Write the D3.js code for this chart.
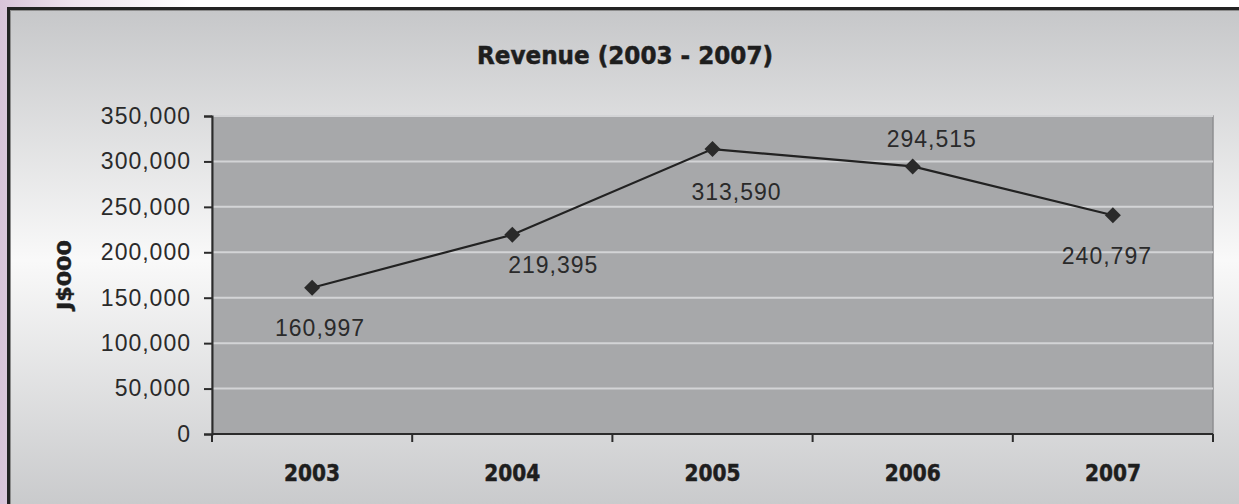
<!DOCTYPE html>
<html>
<head>
<meta charset="utf-8">
<script src="https://cdn.jsdelivr.net/npm/d3@7/dist/d3.min.js"></script>
<style>
  html, body { margin: 0; padding: 0; background: #fff; }
  svg { display: block; }
</style>
</head>
<body>
<svg id="chart" width="1239" height="504"></svg>
<script>
// Revenue by year, J$000
const years = ["2003", "2004", "2005", "2006", "2007"];
const revenue = [160997, 219395, 313590, 294515, 240797];
const yTicks = [0, 50000, 100000, 150000, 200000, 250000, 300000, 350000];
const chartTitle = "Revenue (2003 - 2007)";
const yTitle = "J$000";

// where each value label sits relative to its marker (dx, dy of label centre)
const labelOffsets = [[8, 40], [41, 30], [24, 43], [19, -27], [-6, 41]];

const W = 1239, H = 504;
const plot = { left: 212, top: 116, right: 1213, bottom: 434 };

const svg = d3.select("#chart");
const defs = svg.append("defs");

// slide background: lavender wash on the left, white elsewhere
const bg = defs.append("linearGradient").attr("id", "slideBg")
  .attr("x1", 0).attr("y1", 0).attr("x2", 1).attr("y2", 0);
bg.append("stop").attr("offset", 0).attr("stop-color", "#d8c4d9");
bg.append("stop").attr("offset", 0.06).attr("stop-color", "#eee4ee");
bg.append("stop").attr("offset", 0.16).attr("stop-color", "#ffffff");
svg.append("rect").attr("width", W).attr("height", H).attr("fill", "url(#slideBg)");

// chart area: grey at the edges, light in the middle
const ca = defs.append("linearGradient").attr("id", "chartBg")
  .attr("x1", 0).attr("y1", 0).attr("x2", 0).attr("y2", 1);
ca.append("stop").attr("offset", 0).attr("stop-color", "#c6c7c9");
ca.append("stop").attr("offset", 0.49).attr("stop-color", "#f9f9f9");
ca.append("stop").attr("offset", 1).attr("stop-color", "#c6c7c9");

svg.append("rect")
  .attr("x", 8.5).attr("y", 8.5).attr("width", W + 10).attr("height", H + 10)
  .attr("fill", "url(#chartBg)")
  .attr("stroke", "#232323").attr("stroke-width", 3);
svg.append("rect")
  .attr("x", 10.5).attr("y", 10.5).attr("width", W + 10).attr("height", H + 10)
  .attr("fill", "none").attr("stroke", "#8c8c8c").attr("stroke-width", 1);

// scales
const x = d3.scaleBand().domain(years).range([plot.left, plot.right]).padding(0);
const y = d3.scaleLinear().domain([0, 350000]).range([plot.bottom, plot.top]);

// plot area
svg.append("rect")
  .attr("x", plot.left).attr("y", plot.top)
  .attr("width", plot.right - plot.left).attr("height", plot.bottom - plot.top)
  .attr("fill", "#a7a8aa")
  .attr("stroke", "#8e8f91").attr("stroke-width", 1.5);

// gridlines
svg.append("g").selectAll("line").data(yTicks.filter(d => d > 0)).join("line")
  .attr("x1", plot.left).attr("x2", plot.right)
  .attr("y1", d => y(d)).attr("y2", d => y(d))
  .attr("stroke", "#d3d4d6").attr("stroke-width", 2);

const tickFont = "'Liberation Sans', Arial, sans-serif";
const boldFont = "'DejaVu Sans Condensed', 'DejaVu Sans', sans-serif";

// y axis
const yAxis = svg.append("g")
  .attr("transform", `translate(${plot.left},0)`)
  .call(d3.axisLeft(y).tickValues(yTicks).tickFormat(d3.format(",")).tickSize(8).tickPadding(13));
yAxis.select(".domain").attr("stroke", "#2b2b2b").attr("stroke-width", 2);
yAxis.selectAll(".tick line").attr("stroke", "#2b2b2b").attr("stroke-width", 2);
yAxis.selectAll(".tick text")
  .attr("font-family", tickFont).attr("font-size", 23)
  .attr("letter-spacing", 1).attr("fill", "#2a2a2a");

// x axis: labels at band centres, ticks at band boundaries
const xAxis = svg.append("g")
  .attr("transform", `translate(0,${plot.bottom})`)
  .call(d3.axisBottom(x).tickSize(0).tickPadding(0));
xAxis.select(".domain").remove();
xAxis.selectAll(".tick text")
  .attr("font-family", boldFont).attr("font-weight", "bold").attr("font-size", 23)
  .attr("fill", "#1e1e1e").attr("stroke", "#1e1e1e").attr("stroke-width", 0.5)
  .attr("dy", null).attr("y", 47)
  .attr("textLength", 56).attr("lengthAdjust", "spacingAndGlyphs");

const bounds = d3.range(years.length + 1).map(i => plot.left + i * x.step());
svg.append("line")
  .attr("x1", plot.left).attr("x2", plot.right)
  .attr("y1", plot.bottom).attr("y2", plot.bottom)
  .attr("stroke", "#2b2b2b").attr("stroke-width", 2);
svg.append("g").selectAll("line").data(bounds).join("line")
  .attr("x1", d => d).attr("x2", d => d)
  .attr("y1", plot.bottom).attr("y2", plot.bottom + 8)
  .attr("stroke", "#2b2b2b").attr("stroke-width", 2);

// revenue line
const pts = years.map((yr, i) => ({ yr, v: revenue[i], off: labelOffsets[i] }));
const cx = d => x(d.yr) + x.bandwidth() / 2;

svg.append("path")
  .datum(pts)
  .attr("d", d3.line().x(cx).y(d => y(d.v)))
  .attr("fill", "none").attr("stroke", "#222").attr("stroke-width", 2.2);

// diamond markers
svg.append("g").selectAll("path").data(pts).join("path")
  .attr("transform", d => `translate(${cx(d)},${y(d.v)})`)
  .attr("d", "M0,-8L8,0L0,8L-8,0Z")
  .attr("fill", "#2a2a2a");

// value labels
svg.append("g").selectAll("text").data(pts).join("text")
  .attr("x", d => cx(d) + d.off[0])
  .attr("y", d => y(d.v) + d.off[1] + 8)
  .attr("text-anchor", "middle")
  .attr("font-family", tickFont).attr("font-size", 23)
  .attr("letter-spacing", 1).attr("fill", "#2a2a2a")
  .text(d => d3.format(",")(d.v));

// chart title
svg.append("text")
  .attr("x", 625).attr("y", 64)
  .attr("text-anchor", "middle")
  .attr("font-family", boldFont).attr("font-weight", "bold").attr("font-size", 25)
  .attr("fill", "#1e1e1e").attr("stroke", "#1e1e1e").attr("stroke-width", 0.5)
  .attr("textLength", 296).attr("lengthAdjust", "spacingAndGlyphs")
  .text(chartTitle);

// y axis title
svg.append("text")
  .attr("transform", "translate(71,275) rotate(-90)")
  .attr("text-anchor", "middle")
  .attr("font-family", boldFont).attr("font-weight", "bold").attr("font-size", 19)
  .attr("fill", "#1e1e1e").attr("stroke", "#1e1e1e").attr("stroke-width", 0.4)
  .attr("textLength", 70).attr("lengthAdjust", "spacingAndGlyphs")
  .text(yTitle);
</script>
</body>
</html>
